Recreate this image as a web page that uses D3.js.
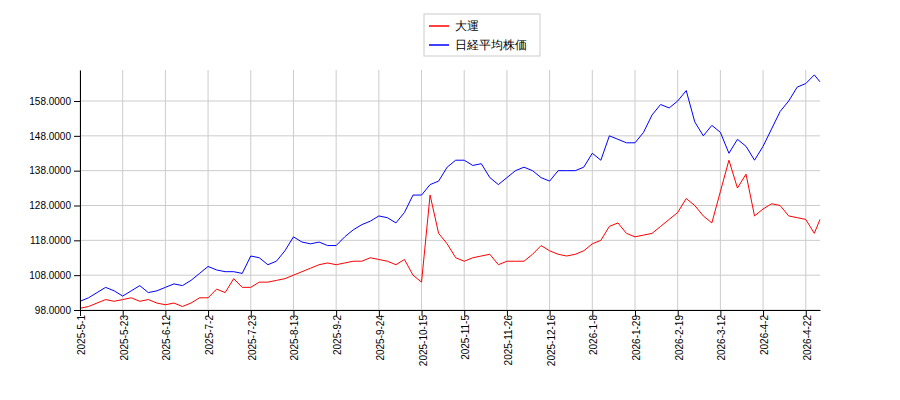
<!DOCTYPE html>
<html><head><meta charset="utf-8">
<script src="https://cdn.jsdelivr.net/npm/d3@7"></script>
<style>body{margin:0;background:#fff;font-family:"DejaVu Sans",sans-serif}</style>
</head><body><svg width="900" height="400"></svg>
<script>
// sampled every 3 trading days (index = position * 3), last point at index 260
const tickLabels = ["2025-5-1","2025-5-23","2025-6-12","2025-7-2","2025-7-23","2025-8-13","2025-9-2","2025-9-24","2025-10-15","2025-11-5","2025-11-26","2025-12-16","2026-1-8","2026-1-29","2026-2-19","2026-3-12","2026-4-2","2026-4-22"];
const yTicks = [98, 108, 118, 128, 138, 148, 158];
const daiun = [98.5,99,100,101,100.5, 101,101.5,100.5,101,100, 99.5,100,99,100,101.5,
  101.5,104,103,107,104.5, 104.5,106,106,106.5,107, 108,109,110,111,111.5,
  111,111.5,112,112,113, 112.5,112,111,112.5,108, 106,131,120,117,113,
  112,113,113.5,114,111, 112,112,112,114,116.5, 115,114,113.5,114,115,
  117,118,122,123,120, 119,119.5,120,122,124, 126,130,128,125,123,
  132,141,133,137,125, 127,128.5,128,125,124.5, 124,120,124];
const nikkei = [100.5,101.5,103,104.5,103.5, 102,103.5,105,103,103.5, 104.5,105.5,105,106.5,108.5,
  110.5,109.5,109,109,108.5, 113.5,113,111,112,115, 119,117.5,117,117.5,116.5,
  116.5,119,121,122.5,123.5, 125,124.5,123,126,131, 131,134,135,139,141,
  141,139.5,140,136,134, 136,138,139,138,136, 135,138,138,138,139,
  143,141,148,147,146, 146,149,154,157,156, 158,161,152,148,151,
  149,143,147,145,141, 145,150,155,158,162, 163,165.5,163.5];
const idx = (i, n) => i === n - 1 ? 260 : i * 3;

const svg = d3.select("svg");
const x = d3.scaleLinear().domain([0, 260]).range([80, 820]);
const y = d3.scaleLinear().domain([98, 166.9]).range([310, 70]);

const grid = svg.append("g").attr("stroke", "#ccc").attr("stroke-width", 1);
tickLabels.forEach((t, i) => grid.append("line").attr("x1", x(i * 15)).attr("x2", x(i * 15)).attr("y1", 70).attr("y2", 310));
yTicks.forEach(v => grid.append("line").attr("x1", 80).attr("x2", 820).attr("y1", y(v)).attr("y2", y(v)));

const line = arr => d3.line().x((d, i) => x(idx(i, arr.length))).y(d => y(d))(arr);
svg.append("path").attr("d", line(nikkei)).attr("fill", "none").attr("stroke", "#0000ff").attr("stroke-width", 1);
svg.append("path").attr("d", line(daiun)).attr("fill", "none").attr("stroke", "#ff0000").attr("stroke-width", 1);

svg.append("g").attr("transform", "translate(80,0)")
  .call(d3.axisLeft(y).tickValues(yTicks).tickFormat(d3.format(".4f")).tickSizeOuter(0))
  .call(g => g.selectAll("text").attr("font-size", 10).attr("fill", "#000"));
const xa = svg.append("g").attr("transform", "translate(0,310)")
  .call(d3.axisBottom(x).tickValues(tickLabels.map((t, i) => i * 15)).tickFormat((d, i) => tickLabels[i]).tickSizeOuter(0));
xa.selectAll("text").attr("font-size", 10).attr("fill", "#000")
  .attr("transform", "rotate(-90)").attr("text-anchor", "end").attr("dx", "-0.5em").attr("dy", "-0.45em");

const lg = svg.append("g").attr("transform", "translate(424,14)");
lg.append("rect").attr("width", 116).attr("height", 42).attr("fill", "#fff").attr("stroke", "#ccc");
[["大運", "#ff0000"], ["日経平均株価", "#0000ff"]].forEach(([n, c], i) => {
  lg.append("line").attr("x1", 5).attr("x2", 25).attr("y1", 12 + i * 19).attr("y2", 12 + i * 19).attr("stroke", c).attr("stroke-width", 1.5);
  lg.append("text").attr("x", 31).attr("y", 16 + i * 19).attr("font-size", 12).text(n);
});
</script></body></html>
